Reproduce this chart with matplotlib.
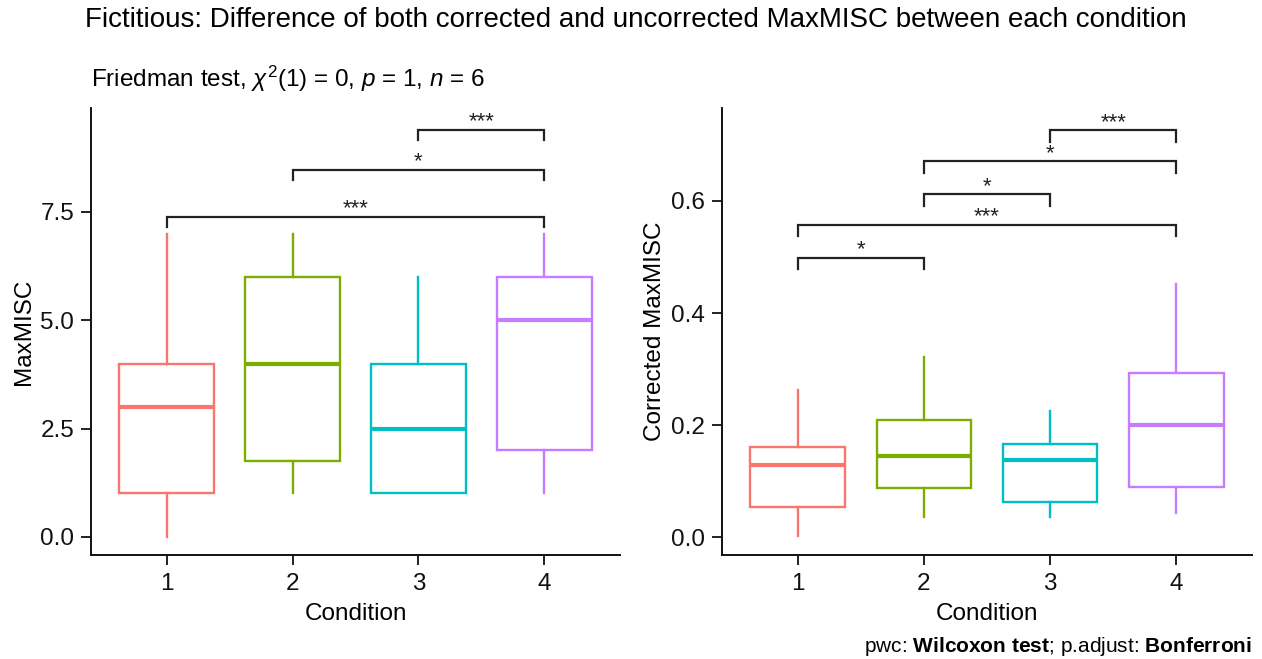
import matplotlib
matplotlib.use("Agg")
import matplotlib.pyplot as plt

plt.rcParams['font.family'] = ['Liberation Sans', 'DejaVu Sans']
plt.rcParams['mathtext.fontset'] = 'custom'
plt.rcParams['mathtext.rm'] = 'Liberation Sans'
plt.rcParams['mathtext.it'] = 'Liberation Sans:italic'
plt.rcParams['mathtext.bf'] = 'Liberation Sans:bold'

conditions = ["1", "2", "3", "4"]
colors = ["#F8766D", "#7CAE00", "#00BFC4", "#C77CFF"]

# raw MaxMISC box stats
raw_lo = [0, 1, 1, 1]
raw_q1 = [1, 1.75, 1, 2]
raw_med = [3, 4, 2.5, 5]
raw_q3 = [4, 6, 4, 6]
raw_hi = [7, 7, 6, 7]

# corrected MaxMISC box stats
cor_lo = [0.002, 0.036, 0.036, 0.043]
cor_q1 = [0.054, 0.087, 0.062, 0.090]
cor_med = [0.128, 0.145, 0.137, 0.200]
cor_q3 = [0.160, 0.209, 0.167, 0.293]
cor_hi = [0.262, 0.322, 0.225, 0.452]

# pairwise brackets: (group1, group2, y, label)
raw_pairs = [(1, 4, 7.39, "***"), (2, 4, 8.48, "*"), (3, 4, 9.40, "***")]
cor_pairs = [(1, 2, 0.499, "*"), (1, 4, 0.558, "***"), (2, 3, 0.612, "*"),
             (2, 4, 0.671, "*"), (3, 4, 0.727, "***")]


def draw_panel(ax, lo, q1, med, q3, hi, pairs, tip, ylim, yticks, ylabel):
    stats = []
    for i in range(len(conditions)):
        stats.append(dict(med=med[i], q1=q1[i], q3=q3[i],
                          whislo=lo[i], whishi=hi[i], fliers=[]))
    pos = list(range(1, len(conditions) + 1))
    bp = ax.bxp(stats, positions=pos, widths=0.75, showcaps=False,
                patch_artist=True)
    for i, c in enumerate(colors):
        bp['boxes'][i].set(facecolor='white', edgecolor=c, linewidth=1.7)
        bp['medians'][i].set(color=c, linewidth=3.0)
        for w in bp['whiskers'][2 * i:2 * i + 2]:
            w.set(color=c, linewidth=1.7)
    for g1, g2, y, lab in pairs:
        ax.plot([g1, g1, g2, g2], [y - tip, y, y, y - tip], color='#222222',
                lw=1.6, solid_joinstyle='miter')
        ax.annotate(lab, ((g1 + g2) / 2, y), xytext=(0, 1.5),
                    textcoords='offset points', ha='center', va='baseline',
                    fontsize=16, color='#222222')
    ax.set_xlim(0.4, 4.6)
    ax.set_ylim(*ylim)
    ax.set_xticks(pos)
    ax.set_xticklabels(conditions)
    ax.set_yticks(yticks)
    ax.set_yticklabels(["%.1f" % v for v in yticks])
    ax.tick_params(labelsize=17.5, length=7, width=1.3, colors='#111111')
    ax.tick_params(axis='x', pad=6)
    ax.tick_params(axis='y', pad=5)
    for s in ['top', 'right']:
        ax.spines[s].set_visible(False)
    for s in ['left', 'bottom']:
        ax.spines[s].set_linewidth(1.4)
        ax.spines[s].set_color('#111111')
    ax.set_xlabel("Condition", fontsize=17.5, labelpad=6)
    ax.set_ylabel(ylabel, fontsize=17.5, labelpad=4)


fig = plt.figure(figsize=(12.62, 6.59), dpi=100)
ax1 = fig.add_axes([91 / 1262, 104 / 659, (620 - 91) / 1262, (555 - 108) / 659])
ax2 = fig.add_axes([722 / 1262, 104 / 659, (1252 - 722) / 1262, (555 - 108) / 659])

draw_panel(ax1, raw_lo, raw_q1, raw_med, raw_q3, raw_hi, raw_pairs, 0.24,
           (-0.42, 9.9), [0, 2.5, 5, 7.5], "MaxMISC")
draw_panel(ax2, cor_lo, cor_q1, cor_med, cor_q3, cor_hi, cor_pairs, 0.021,
           (-0.032, 0.766), [0, 0.2, 0.4, 0.6], "Corrected MaxMISC")

fig.text(85 / 1262, 1 - 20 / 659,
         "Fictitious: Difference of both corrected and uncorrected MaxMISC between each condition",
         fontsize=20, ha='left', va='center')
fig.text(91 / 1262, 1 - 79 / 659,
         r"Friedman test, $\chi^2$(1) = 0, $\it{p}$ = 1, $\it{n}$ = 6",
         fontsize=17.5, ha='left', va='center')
fig.text(1252 / 1262, 1 - 647 / 659,
         r"pwc: $\bf{Wilcoxon\ test}$; p.adjust: $\bf{Bonferroni}$",
         fontsize=15, ha='right', va='center')

fig.savefig("out.png", dpi=100)
